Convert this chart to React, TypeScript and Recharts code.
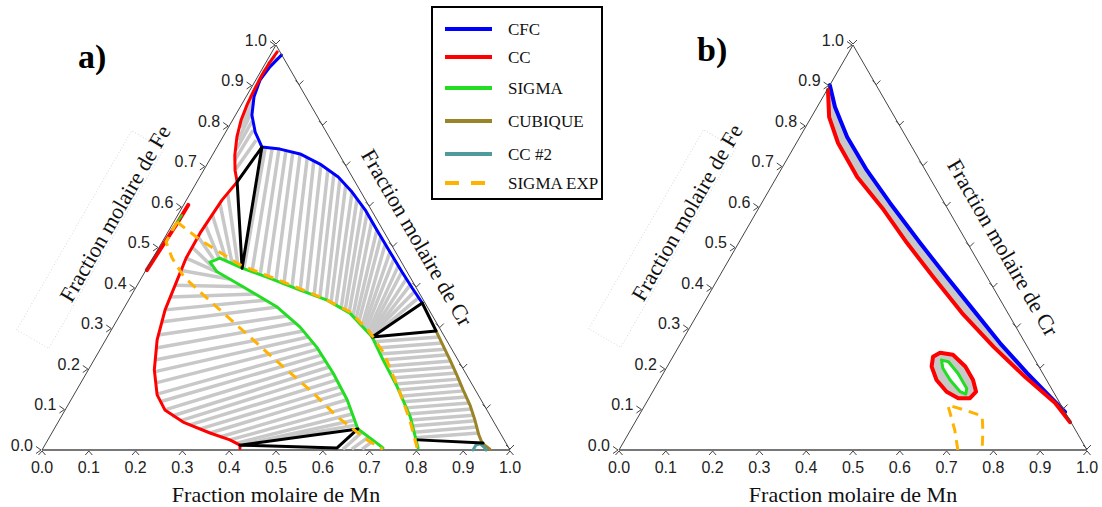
import React from 'react';
import { ScatterChart, Scatter, XAxis, YAxis, Legend } from 'recharts';

// every composition is [Mn, Fe] (Cr = 1 - Mn - Fe)
type Pt = [number, number];

const H = Math.sqrt(3) / 2;

const tickValues = [0, 0.1, 0.2, 0.3, 0.4, 0.5, 0.6, 0.7, 0.8, 0.9, 1];
const tickLabels = ['0.0', '0.1', '0.2', '0.3', '0.4', '0.5', '0.6', '0.7', '0.8', '0.9', '1.0'];

const seriesNames = ['CFC', 'CC', 'SIGMA', 'CUBIQUE', 'CC #2', 'SIGMA EXP'];
const seriesColors = ['#0000ff', '#ff0000', '#22dd22', '#9a8428', '#4f9a9a', '#ffb300'];

const corners: Pt[] = [[0, 0], [0, 1], [1, 0]];

// ---------- panel a ----------
const aCfc: Pt[] = [
  [0.024, 0.975], [0.014, 0.946], [0.009, 0.914], [0.017, 0.872], [0.035, 0.827], [0.063, 0.785],
  [0.096, 0.748], [0.137, 0.743], [0.186, 0.731], [0.241, 0.706], [0.296, 0.674], [0.344, 0.637],
  [0.394, 0.593], [0.444, 0.543], [0.499, 0.489], [0.549, 0.44], [0.591, 0.4], [0.631, 0.363],
];
const aCc: Pt[] = [
  [0.011, 0.983], [0.008, 0.958], [0.007, 0.926], [0.009, 0.889], [0.012, 0.852], [0.018, 0.815],
  [0.03, 0.773], [0.048, 0.728], [0.067, 0.691], [0.086, 0.662], [0.076, 0.617], [0.07, 0.536],
  [0.071, 0.474], [0.081, 0.407], [0.09, 0.346], [0.11, 0.272], [0.141, 0.198], [0.178, 0.136],
  [0.213, 0.099], [0.267, 0.069], [0.338, 0.042], [0.389, 0.025], [0.417, 0.012], [0.421, 0.004],
];
const aCcEdge: Pt[] = [[0.01, 0.605], [0.009, 0.563], [0.006, 0.514], [0.003, 0.464], [0.002, 0.444]];
const aSigmaEdge: Pt[] = [[0.009, 0.58], [0.006, 0.543]];
const aSigma: Pt[] = [
  [0.726, 0.005], [0.707, 0.017], [0.649, 0.052], [0.59, 0.124], [0.527, 0.19], [0.46, 0.254],
  [0.399, 0.304], [0.326, 0.353], [0.228, 0.403], [0.154, 0.44], [0.127, 0.464], [0.143, 0.474],
  [0.203, 0.449], [0.267, 0.427], [0.354, 0.395], [0.424, 0.37], [0.489, 0.338], [0.566, 0.279],
  [0.618, 0.222], [0.681, 0.156], [0.746, 0.082], [0.801, 0.005],
];
const aCubique: Pt[] = [
  [0.695, 0.294], [0.727, 0.259], [0.761, 0.222], [0.794, 0.185], [0.826, 0.148],
  [0.859, 0.111], [0.888, 0.074], [0.915, 0.037], [0.932, 0.017], [0.956, 0.002],
];
const aCc2: Pt[] = [[0.921, 0], [0.921, 0.012], [0.929, 0.015], [0.941, 0.007], [0.949, 0]];
const aSigmaExpTop: Pt[] = [
  [0.007, 0.563], [0.078, 0.519], [0.195, 0.457], [0.308, 0.415], [0.413, 0.375], [0.488, 0.341],
  [0.549, 0.296], [0.608, 0.242], [0.678, 0.161], [0.749, 0.074], [0.799, 0.005],
];
const aSigmaExpLow: Pt[] = [
  [0.007, 0.563], [0.008, 0.514], [0.041, 0.474], [0.09, 0.427], [0.197, 0.353], [0.305, 0.279],
  [0.413, 0.205], [0.499, 0.148], [0.59, 0.082], [0.682, 0.025], [0.727, 0.002],
];
const aTriangles: Pt[][] = [
  [[0.096, 0.748], [0.086, 0.662], [0.203, 0.449], [0.096, 0.748]],
  [[0.631, 0.363], [0.566, 0.279], [0.695, 0.294], [0.631, 0.363]],
  [[0.417, 0.012], [0.649, 0.052], [0.628, 0.005], [0.417, 0.012]],
  [[0.791, 0.025], [0.934, 0.017]],
];

// tie lines, CC -> CFC near the Fe corner
const tieCcCfcFrom: Pt[] = [
  [0.067, 0.691], [0.054, 0.716], [0.044, 0.741], [0.036, 0.765], [0.026, 0.795], [0.02, 0.82],
  [0.014, 0.844], [0.01, 0.869], [0.009, 0.889], [0.007, 0.909], [0.006, 0.933], [0.006, 0.953],
];
const tieCcCfcTo: Pt[] = [
  [0.075, 0.765], [0.056, 0.79], [0.043, 0.812], [0.031, 0.835], [0.023, 0.857], [0.015, 0.877],
  [0.011, 0.896], [0.009, 0.914], [0.009, 0.931], [0.011, 0.943], [0.014, 0.956], [0.018, 0.968],
];
// CFC -> SIGMA fan
const tieCfcSigmaFrom: Pt[] = [
  [0.104, 0.746], [0.119, 0.746], [0.135, 0.743], [0.151, 0.741], [0.168, 0.736], [0.186, 0.731],
  [0.205, 0.724], [0.223, 0.716], [0.243, 0.706], [0.264, 0.694], [0.282, 0.684], [0.302, 0.669],
  [0.322, 0.654], [0.344, 0.637], [0.363, 0.62], [0.383, 0.603], [0.402, 0.585], [0.422, 0.565],
  [0.444, 0.543], [0.461, 0.526], [0.479, 0.509], [0.499, 0.489], [0.516, 0.472], [0.534, 0.454],
  [0.549, 0.44], [0.567, 0.422], [0.583, 0.407], [0.6, 0.39], [0.616, 0.375],
];
const tieCfcSigmaTo: Pt[] = [
  [0.207, 0.449], [0.228, 0.442], [0.249, 0.435], [0.269, 0.427], [0.29, 0.42], [0.311, 0.412],
  [0.332, 0.405], [0.353, 0.398], [0.371, 0.39], [0.39, 0.383], [0.406, 0.375], [0.423, 0.368],
  [0.436, 0.363], [0.45, 0.356], [0.465, 0.348], [0.476, 0.343], [0.487, 0.338], [0.499, 0.331],
  [0.509, 0.324], [0.519, 0.316], [0.53, 0.309], [0.537, 0.301], [0.544, 0.296], [0.551, 0.291],
  [0.556, 0.286], [0.559, 0.284], [0.562, 0.282], [0.562, 0.282], [0.566, 0.279],
];
// CC -> SIGMA
const tieCcSigmaFrom: Pt[] = [
  [0.081, 0.632], [0.077, 0.607], [0.072, 0.583], [0.069, 0.558], [0.069, 0.528], [0.07, 0.501],
  [0.071, 0.474], [0.073, 0.444], [0.081, 0.407], [0.085, 0.378], [0.09, 0.346], [0.096, 0.316],
  [0.106, 0.284], [0.118, 0.252], [0.13, 0.222], [0.143, 0.193], [0.159, 0.165], [0.177, 0.138],
  [0.193, 0.119], [0.213, 0.099], [0.236, 0.084], [0.259, 0.072], [0.285, 0.062], [0.312, 0.052],
  [0.338, 0.042], [0.364, 0.032], [0.389, 0.025], [0.408, 0.017], [0.417, 0.012], [0.417, 0.012],
  [0.642, 0.002], [0.661, 0.002], [0.683, 0.002],
];
const tieCcSigmaTo: Pt[] = [
  [0.192, 0.454], [0.175, 0.462], [0.159, 0.469], [0.141, 0.474], [0.13, 0.472], [0.136, 0.454],
  [0.154, 0.44], [0.189, 0.422], [0.228, 0.403], [0.263, 0.385], [0.293, 0.37], [0.326, 0.353],
  [0.358, 0.331], [0.384, 0.314], [0.411, 0.294], [0.429, 0.279], [0.447, 0.264], [0.465, 0.249],
  [0.481, 0.235], [0.497, 0.22], [0.511, 0.205], [0.527, 0.19], [0.544, 0.173], [0.559, 0.156],
  [0.573, 0.141], [0.59, 0.124], [0.605, 0.106], [0.618, 0.089], [0.632, 0.074], [0.642, 0.062],
  [0.662, 0.044], [0.681, 0.032], [0.696, 0.022],
];
// SIGMA -> CUBIQUE
const tieSigmaCubFrom: Pt[] = [
  [0.576, 0.267], [0.59, 0.252], [0.604, 0.237], [0.618, 0.222], [0.631, 0.207], [0.645, 0.193],
  [0.659, 0.178], [0.673, 0.163], [0.687, 0.148], [0.7, 0.133], [0.713, 0.119], [0.726, 0.104],
  [0.739, 0.089], [0.751, 0.074], [0.762, 0.059], [0.773, 0.044], [0.783, 0.03],
];
const tieSigmaCubTo: Pt[] = [
  [0.709, 0.279], [0.723, 0.264], [0.736, 0.249], [0.75, 0.235], [0.763, 0.22], [0.776, 0.205],
  [0.79, 0.19], [0.803, 0.175], [0.815, 0.161], [0.828, 0.146], [0.841, 0.131], [0.854, 0.116],
  [0.867, 0.101], [0.878, 0.086], [0.89, 0.072], [0.901, 0.057], [0.912, 0.042],
];

// ---------- panel b ----------
const bCfc: Pt[] = [
  [0.0, 0.901], [0.038, 0.847], [0.101, 0.773], [0.184, 0.691], [0.274, 0.61], [0.388, 0.511],
  [0.487, 0.427], [0.584, 0.346], [0.682, 0.264], [0.777, 0.19], [0.856, 0.131], [0.906, 0.094],
];
const bCc: Pt[] = [
  [0.002, 0.889], [0.038, 0.822], [0.089, 0.758], [0.172, 0.674], [0.269, 0.593], [0.36, 0.511],
  [0.458, 0.427], [0.564, 0.338], [0.674, 0.254], [0.778, 0.18], [0.874, 0.116], [0.929, 0.069],
];
const bCcIsland: Pt[] = [
  [0.566, 0.24], [0.596, 0.235], [0.637, 0.206], [0.67, 0.173], [0.691, 0.144], [0.686, 0.128],
  [0.661, 0.128], [0.628, 0.144], [0.592, 0.173], [0.565, 0.206], [0.556, 0.23], [0.566, 0.24],
];
const bSigmaIsland: Pt[] = [
  [0.578, 0.222], [0.595, 0.218], [0.63, 0.189], [0.667, 0.152], [0.672, 0.138],
  [0.657, 0.144], [0.621, 0.173], [0.591, 0.202], [0.578, 0.222],
];
const bSigmaExp: Pt[] = [
  [0.724, 0], [0.693, 0.049], [0.662, 0.091], [0.647, 0.111], [0.698, 0.096], [0.734, 0.084],
  [0.753, 0.049], [0.776, 0],
];

const toXY = (p: Pt) => ({ x: p[0] + p[1] / 2, y: p[1] * H });
const pts = (a: Pt[]) => a.map(toXY);
const pairs = (from: Pt[], to: Pt[]) => from.flatMap((p, i) => [toXY(p), toXY(to[i])]);

const SERIF = "'Liberation Serif', 'Times New Roman', serif";
const SANS = "'Liberation Sans', Arial, sans-serif";
const GREY = '#c8c8c8';
const [BLUE, RED, GREEN, OLIVE, TEAL, ORANGE] = seriesColors;

const noDot = () => <g />;

function curve(key: string, data: Pt[], stroke: string, width = 3, dash?: string) {
  return (
    <Scatter
      key={key}
      data={pts(data)}
      shape={noDot}
      isAnimationActive={false}
      line={{ stroke, strokeWidth: width, strokeDasharray: dash, strokeLinejoin: 'round', strokeLinecap: dash ? 'butt' : 'round' }}
    />
  );
}

function area(key: string, data: Pt[], fill: string, stroke = 'none', width = 0) {
  return (
    <Scatter
      key={key}
      data={pts(data)}
      shape={noDot}
      isAnimationActive={false}
      line={(p: any) => (
        <polygon
          points={p.points.map((q: any) => `${q.x},${q.y}`).join(' ')}
          fill={fill}
          stroke={stroke}
          strokeWidth={width}
          strokeLinejoin="round"
        />
      )}
    />
  );
}

function ties(key: string, from: Pt[], to: Pt[], stroke = GREY, width = 3.5) {
  return (
    <Scatter
      key={key}
      data={pairs(from, to)}
      shape={noDot}
      isAnimationActive={false}
      line={(p: any) => {
        const segs = [];
        for (let i = 0; i + 1 < p.points.length; i += 2) {
          const a = p.points[i];
          const b = p.points[i + 1];
          segs.push(<line key={i} x1={a.x} y1={a.y} x2={b.x} y2={b.y} stroke={stroke} strokeWidth={width} />);
        }
        return <g>{segs}</g>;
      }}
    />
  );
}

const bottomTick = (p: any) => (
  <path d={`M${p.cx - 3.5},${p.cy + 5}L${p.cx},${p.cy + 1}L${p.cx + 3.5},${p.cy + 5}`} stroke="#444" fill="none" />
);
const leftTick = (p: any) => (
  <path d={`M${p.cx - 6},${p.cy - 3.5}L${p.cx - 1},${p.cy}L${p.cx - 6},${p.cy + 3.5}`} stroke="#444" fill="none" />
);
const rightTick = (p: any) => (
  <path d={`M${p.cx - 4},${p.cy - 5}L${p.cx},${p.cy - 1}L${p.cx + 4},${p.cy - 5}`} stroke="#444" fill="none" />
);
const leftLabel = (p: any) => (
  <text x={p.cx - 9} y={p.cy - 5} textAnchor="end" dominantBaseline="central" fontFamily={SANS} fontSize={16} fill="#222">
    {p.payload.label}
  </text>
);

const feTitle = (dx: number, dy: number) => (p: any) => (
  <g transform={`translate(${p.cx + dx},${p.cy + dy}) rotate(-60)`}>
    <rect x={-150} y={-27} width={230} height={37} fill="none" stroke="#dcdcdc" strokeDasharray="1 2" />
    <text textAnchor="middle" dominantBaseline="central" fontFamily={SERIF} fontSize={22} fill="#111">
      Fraction molaire de Fe
    </text>
  </g>
);
const crTitle = (dx: number, dy: number) => (p: any) => (
  <g transform={`translate(${p.cx + dx},${p.cy + dy}) rotate(60)`}>
    <text textAnchor="middle" dominantBaseline="central" fontFamily={SERIF} fontSize={22} fill="#111">
      Fraction molaire de Cr
    </text>
  </g>
);

const legendY = [21, 49, 80, 113, 146, 175];
const legendBox = () => (
  <div style={{ width: 172, height: 194, border: '2px solid #000', boxSizing: 'border-box', background: '#fff' }}>
    <svg width={168} height={190} style={{ overflow: 'visible' }}>
      {seriesNames.map((n, i) => (
        <g key={n}>
          <line
            x1={12}
            x2={59}
            y1={legendY[i]}
            y2={legendY[i]}
            stroke={seriesColors[i]}
            strokeWidth={4}
            strokeDasharray={i === 5 ? '14 12' : undefined}
          />
          <text x={75} y={legendY[i]} dominantBaseline="central" fontFamily={SERIF} fontSize={17} fill="#111">
            {n}
          </text>
        </g>
      ))}
    </svg>
  </div>
);

function Panel({ left, width, right, fe, cr, legend, children }: any) {
  return (
    <div style={{ position: 'absolute', left, top: 0 }}>
      <ScatterChart width={width} height={507} margin={{ top: 45, right, bottom: 27, left: 42 }}>
        <XAxis
          type="number"
          dataKey="x"
          domain={[0, 1]}
          ticks={tickValues}
          interval={0}
          tickFormatter={(v: number) => tickLabels[Math.round(v * 10)]}
          axisLine={{ stroke: '#777', strokeWidth: 2 }}
          tickLine={false}
          tickSize={6}
          tickMargin={6}
          height={30}
          tick={{ fontSize: 16, fill: '#222', fontFamily: SANS }}
          label={{ value: 'Fraction molaire de Mn', position: 'bottom', offset: 6, fontFamily: SERIF, fontSize: 22, fill: '#111' }}
        />
        <YAxis type="number" dataKey="y" domain={[0, H]} hide />
        {legend && (
          <Legend
            layout="vertical"
            align="center"
            verticalAlign="middle"
            wrapperStyle={{ left: 431, top: 6, width: 172, height: 194 }}
            content={legendBox}
          />
        )}
        {children}
        <Scatter data={pts(corners)} shape={noDot} line={{ stroke: '#444', strokeWidth: 1 }} isAnimationActive={false} />
        <Scatter data={tickValues.map((t) => toXY([t, 0]))} shape={bottomTick} isAnimationActive={false} />
        <Scatter data={tickValues.map((t) => toXY([0, t]))} shape={leftTick} isAnimationActive={false} />
        <Scatter data={tickValues.map((t) => toXY([1 - t, t]))} shape={rightTick} isAnimationActive={false} />
        <Scatter
          data={tickValues.map((t, i) => ({ ...toXY([0, t]), label: tickLabels[i] }))}
          shape={leftLabel}
          isAnimationActive={false}
        />
        <Scatter data={[toXY([0, 0.5])]} shape={feTitle(fe[0], fe[1])} isAnimationActive={false} />
        <Scatter data={[toXY([0.5, 0.5])]} shape={crTitle(cr[0], cr[1])} isAnimationActive={false} />
      </ScatterChart>
    </div>
  );
}

export default function App() {
  return (
    <div style={{ position: 'absolute', left: 0, top: 0, width: 1102, height: 507, background: '#fff', overflow: 'hidden' }}>
      <Panel left={577} width={525} right={15} fe={[-49, -35]} cr={[33, 0]}>
        {area('b-band', [...bCc, ...[...bCfc].reverse()], GREY)}
        {area('b-island', bCcIsland, GREY)}
        {area('b-island-in', bSigmaIsland, '#fff')}
        {curve('b-cfc', bCfc, BLUE, 4)}
        {curve('b-cc', bCc, RED, 4)}
        {curve('b-cc-island', bCcIsland, RED, 4)}
        {curve('b-sigma-island', bSigmaIsland, GREEN, 3)}
        {curve('b-exp', bSigmaExp, ORANGE, 3, '10 7')}
      </Panel>
      <Panel left={0} width={560} right={50} fe={[-44, -34]} cr={[24, -10]} legend>
        {ties('t-cc-cfc', tieCcCfcFrom, tieCcCfcTo)}
        {ties('t-cfc-sigma', tieCfcSigmaFrom, tieCfcSigmaTo)}
        {ties('t-cc-sigma', tieCcSigmaFrom, tieCcSigmaTo)}
        {ties('t-sigma-cub', tieSigmaCubFrom, tieSigmaCubTo)}
        {curve('a-cub', aCubique, OLIVE, 3)}
        {curve('a-cc2', aCc2, TEAL, 3)}
        {curve('a-cfc', aCfc, BLUE, 3)}
        {curve('a-cc', aCc, RED, 3)}
        {curve('a-cc-edge', aCcEdge, RED, 4)}
        {curve('a-sigma', aSigma, GREEN, 3)}
        {curve('a-sigma-edge', aSigmaEdge, GREEN, 2)}
        {aTriangles.map((t, i) => curve(`a-tri-${i}`, t, '#000', 3))}
        {curve('a-exp-top', aSigmaExpTop, ORANGE, 3, '10 7')}
        {curve('a-exp-low', aSigmaExpLow, ORANGE, 3, '10 7')}
      </Panel>
      <div style={{ position: 'absolute', left: 78, top: 40, fontFamily: SERIF, fontWeight: 'bold', fontSize: 34, lineHeight: '34px' }}>
        a)
      </div>
      <div style={{ position: 'absolute', left: 697, top: 33, fontFamily: SERIF, fontWeight: 'bold', fontSize: 34, lineHeight: '34px' }}>
        b)
      </div>
    </div>
  );
}
